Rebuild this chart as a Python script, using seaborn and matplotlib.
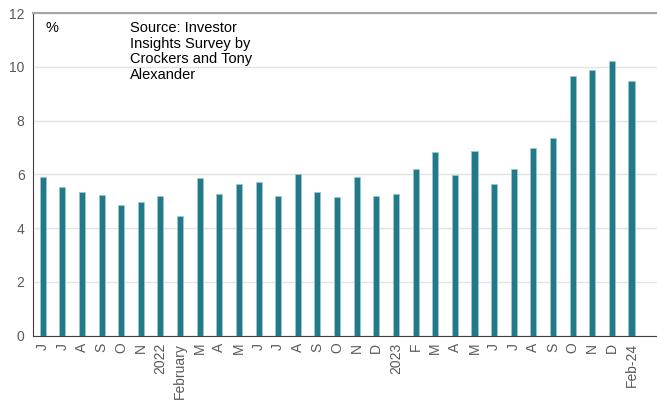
""" Investor Insights Survey - rental yield bars """

import matplotlib
matplotlib.use('Agg')
import matplotlib.pyplot as plt
import seaborn as sns
import pandas as pd

# Data
labels = ['J', 'J', 'A', 'S', 'O', 'N', '2022', 'February', 'M', 'A', 'M', 'J', 'J',
          'A', 'S', 'O', 'N', 'D', '2023', 'F', 'M', 'A', 'M', 'J', 'J', 'A', 'S',
          'O', 'N', 'D', 'Feb-24']
values = [5.91, 5.53, 5.35, 5.24, 4.87, 4.97, 5.19, 4.47, 5.88, 5.28, 5.66, 5.70, 5.21,
          6.01, 5.35, 5.17, 5.91, 5.21, 5.27, 6.21, 6.83, 5.99, 6.88, 5.64, 6.21, 6.99,
          7.37, 9.67, 9.88, 10.22, 9.47]
y_ticks = [0, 2, 4, 6, 8, 10, 12]

df = pd.DataFrame({'pos': range(len(values)), 'value': values})

sns.set_style('white')
plt.rcParams['font.family'] = ['Liberation Sans', 'DejaVu Sans']

bar_color = '#21798A'
text_color = '#595959'

fig, ax = plt.subplots(figsize=(6.57, 4.07), dpi=100)
fig.subplots_adjust(left=0.05, right=1.0, top=0.968, bottom=0.175)

sns.barplot(x='pos', y='value', data=df, ax=ax, color=bar_color, width=0.31,
            saturation=1, edgecolor='#9CC7CF', linewidth=0.6, native_scale=True, zorder=3)

ax.set_xlim(-0.5, 31.3)
ax.set_ylim(0, 12)
ax.set_yticks(y_ticks)
ax.set_xticks(range(len(labels)))
ax.set_xticklabels(labels, rotation=90)
ax.set_xlabel('')
ax.set_ylabel('')
ax.tick_params(axis='both', colors=text_color, labelsize=10, length=0, pad=6)
ax.tick_params(axis='x', pad=5)

ax.yaxis.grid(True, color='#E3E3E3', linewidth=1, zorder=0)
ax.set_axisbelow(True)

ax.spines['right'].set_visible(False)
ax.spines['top'].set_color('#A6A6A6')
ax.spines['top'].set_linewidth(1.5)
ax.spines['left'].set_color('#404040')
ax.spines['bottom'].set_color('#404040')

ax.text(0.02, 0.975, '%', transform=ax.transAxes, fontsize=10.5, color='black', va='top')
ax.text(0.155, 0.975, 'Source: Investor\nInsights Survey by\nCrockers and Tony\nAlexander',
        transform=ax.transAxes, fontsize=10.5, color='black', va='top', linespacing=1.15)

plt.savefig('out.png', dpi=100)
plt.close()
